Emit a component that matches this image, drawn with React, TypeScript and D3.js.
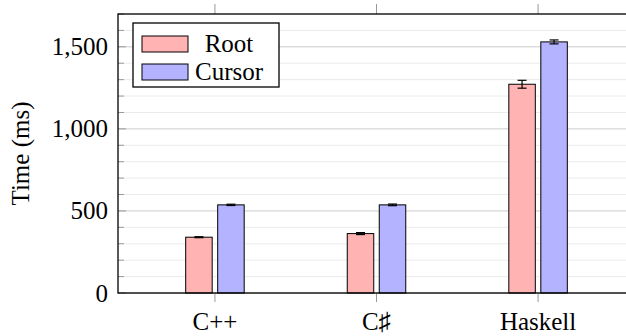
import React from "react";
import * as d3 from "d3";

const categories = ["C++", "C\u266F", "Haskell"];
const seriesNames = ["Root", "Cursor"];
const rootValues = [340, 362, 1272];
const rootErrors = [3, 6, 24];
const cursorValues = [537, 537, 1530];
const cursorErrors = [4, 5, 12];
const yMajorTicks = [0, 500, 1000, 1500];
const yMinorTicks = d3.range(0, 1701, 100);

const W = 626;
const H = 336;
const FS = 25;
const textStyle = { fontFamily: "Liberation Serif", fontSize: FS };

export default function App() {
  const left = 118, top = 14, bottom = 293, right = 635;
  const x = d3.scaleLinear().domain([-0.6, categories.length - 1 + 0.6]).range([left, right]);
  const y = d3.scaleLinear().domain([0, 1700]).range([bottom, top]);
  const fmt = d3.format(",");
  const barW = 26.5;
  const off = 16;
  const fills = ["#ffb3b3", "#b3b3ff"];
  const series = [
    { name: seriesNames[0], values: rootValues, errors: rootErrors, fill: fills[0], shift: -off },
    { name: seriesNames[1], values: cursorValues, errors: cursorErrors, fill: fills[1], shift: off },
  ];
  const capW = 9;

  return (
    <svg width={W} height={H} style={{ position: "absolute", left: 0, top: 0 }}>
      <rect x={0} y={0} width={W} height={H} fill="white" />
      {yMinorTicks.filter((v) => v % 500 !== 0).map((v) => (
        <line key={"mg" + v} x1={left} x2={right} y1={y(v)} y2={y(v)} stroke="#ebebeb" strokeWidth={1} />
      ))}
      {yMajorTicks.map((v) => (
        <line key={"Mg" + v} x1={left} x2={right} y1={y(v)} y2={y(v)} stroke="#cccccc" strokeWidth={1} />
      ))}
      {yMinorTicks.map((v) => (
        <line key={"lt" + v} x1={left} x2={left + (v % 500 === 0 ? 8 : 6)} y1={y(v)} y2={y(v)} stroke="#9a9a9a" strokeWidth={1} />
      ))}
      {series.map((s) =>
        s.values.map((v, i) => (
          <rect
            key={s.name + i}
            x={x(i) + s.shift - barW / 2}
            y={y(v)}
            width={barW}
            height={y(0) - y(v)}
            fill={s.fill}
            stroke="#000"
            strokeWidth={1}
          />
        ))
      )}
      {series.map((s) =>
        s.values.map((v, i) => {
          const cx = x(i) + s.shift;
          const e = s.errors[i];
          return (
            <g key={"e" + s.name + i} stroke="#000" strokeWidth={1.2}>
              <line x1={cx} x2={cx} y1={y(v + e)} y2={y(v - e)} />
              <line x1={cx - capW / 2} x2={cx + capW / 2} y1={y(v + e)} y2={y(v + e)} />
              <line x1={cx - capW / 2} x2={cx + capW / 2} y1={y(v - e)} y2={y(v - e)} />
            </g>
          );
        })
      )}
      {categories.map((c, i) => (
        <g key={"xt" + i} stroke="#999" strokeWidth={1}>
          <line x1={x(i)} x2={x(i)} y1={bottom} y2={bottom + 9} />
          <line x1={x(i)} x2={x(i)} y1={top} y2={top - 10} />
        </g>
      ))}
      <rect x={left} y={top} width={right - left} height={bottom - top} fill="none" stroke="#000" strokeWidth={1.3} />
      {yMajorTicks.map((v) => (
        <text key={"yl" + v} x={108} y={y(v)} dy="0.34em" textAnchor="end" style={textStyle} fill="#000">
          {fmt(v)}
        </text>
      ))}
      {categories.map((c, i) => (
        <text key={"xl" + i} x={x(i)} y={330} textAnchor="middle" style={textStyle} fill="#000">
          {c}
        </text>
      ))}
      <text
        transform={`translate(29,${(top + bottom) / 2}) rotate(-90)`}
        textAnchor="middle"
        style={textStyle}
        fill="#000"
      >
        Time (ms)
      </text>
      <g>
        <rect x={133} y={23} width={146} height={64} fill="white" stroke="#000" strokeWidth={1.3} />
        {series.map((s, k) => (
          <g key={"lg" + k}>
            <rect x={142} y={36 + k * 28} width={46} height={16} fill={s.fill} stroke="#000" strokeWidth={1} />
            <text x={229} y={52 + k * 28} textAnchor="middle" style={textStyle} fill="#000">
              {s.name}
            </text>
          </g>
        ))}
      </g>
    </svg>
  );
}
